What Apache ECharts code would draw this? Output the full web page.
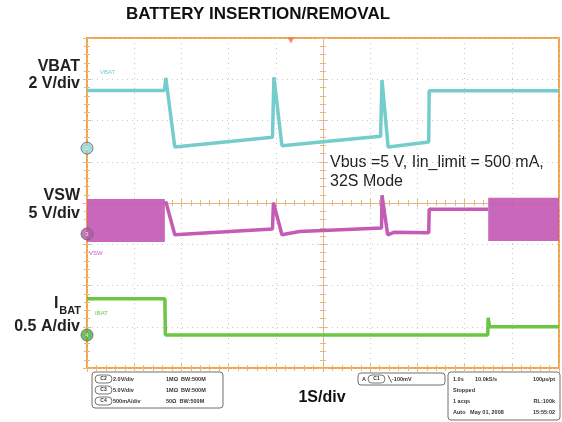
<!DOCTYPE html>
<html>
<head>
<meta charset="utf-8">
<script src="https://cdn.jsdelivr.net/npm/echarts@6/dist/echarts.min.js"></script>
<style>
html,body{margin:0;padding:0;background:#fff}
#chart{width:562px;height:422px}
</style>
</head>
<body>
<div id="chart"></div>
<script>
// scope capture, 1 s/div, 10 divs across, 8 divs high
var vbatTime = [0, 1.64, 1.67, 1.86, 3.93, 3.96, 4.13, 6.22, 6.25, 6.38, 7.24, 7.25, 10];
var vbatVolt = [2.8, 2.8, 3.4, 0.05, 0.53, 3.44, 0.12, 0.58, 3.3, 0.05, 0.3, 2.78, 2.78];

var vswTime = [1.65, 1.67, 1.86, 3.93, 3.95, 4.13, 4.5, 6.24, 6.25, 6.37, 6.5, 7.24, 7.25, 8.5];
var vswVolt = [3.6, 3.9, -0.1, 0.6, 3.8, -0.1, 0.3, 0.73, 4.7, -0.1, 0.2, 0.15, 3.0, 3.0];
// switching bursts drawn as solid bands
var burstStart = [0, 8.5];
var burstEnd = [1.65, 10];
var burstLow = [-0.97, -0.85];
var burstHigh = [4.24, 4.4];

var ibatTime = [0, 1.65, 1.66, 8.49, 8.5, 8.53, 10];
var ibatAmp = [0.44, 0.44, 0, 0, 0.21, 0.1, 0.1];

// channel ground marker (div from bottom) and scale per div
var vbatZero = 5.33, vbatPerDiv = 2;
var vswZero = 3.25, vswPerDiv = 5;
var ibatZero = 0.8, ibatPerDiv = 0.5;
var triggerTime = 4.32;

var cTeal = '#74cccc', cMag = '#c45bb5', cGreen = '#6cc645', cFrame = '#f4a444';

function toDiv(t, v, zero, per) {
  var out = [];
  for (var i = 0; i < t.length; i++) out.push([t[i], zero + v[i] / per]);
  return out;
}
var bursts = [];
for (var i = 0; i < burstStart.length; i++) {
  bursts.push([burstStart[i], burstEnd[i], vswZero + burstLow[i] / vswPerDiv, vswZero + burstHigh[i] / vswPerDiv]);
}

var chart = echarts.init(document.getElementById('chart'));

function frameX(pos, offset, inside) {
  return {
    type: 'value', min: 0, max: 10, interval: 1, position: pos, offset: offset || 0,
    axisLine: {show: offset ? true : false, lineStyle: {color: '#dcb88e', width: 1}},
    axisTick: {show: true, inside: inside, length: 4, lineStyle: {color: '#e8b77a'}},
    minorTick: {show: true, splitNumber: 5, length: 3, lineStyle: {color: '#e8b77a'}},
    axisLabel: {show: false},
    splitLine: {show: false}
  };
}
function frameY(pos, offset, inside) {
  return {
    type: 'value', min: 0, max: 8, interval: 1, position: pos, offset: offset || 0,
    axisLine: {show: offset ? true : false, lineStyle: {color: '#dcb88e', width: 1}},
    axisTick: {show: true, inside: inside, length: 4, lineStyle: {color: '#e8b77a'}},
    minorTick: {show: true, splitNumber: 5, length: 3, lineStyle: {color: '#e8b77a'}},
    axisLabel: {show: false},
    splitLine: {show: false}
  };
}

var xAxes = [frameX('bottom', 0, true), frameX('top', 0, true), frameX('bottom', -165, true), frameX('bottom', -165, false)];
xAxes[0].splitLine = {show: true, lineStyle: {color: '#c9c9c9', type: [1, 4], width: 1}};
var yAxes = [frameY('left', 0, true), frameY('right', 0, true), frameY('left', -236, true), frameY('left', -236, false)];
yAxes[0].splitLine = {show: true, lineStyle: {color: '#c9c9c9', type: [1, 4], width: 1}};

var fnt = 'Liberation Sans, Arial, sans-serif';
function txt(x, y, s, size, weight, color, align) {
  return {type: 'text', x: x, y: y, style: {text: s, font: (weight || 'normal') + ' ' + size + 'px ' + fnt, fill: color || '#222', align: align || 'left', verticalAlign: 'middle'}};
}
function box(x, y, w, h) {
  return {type: 'rect', shape: {x: x, y: y, width: w, height: h, r: 3}, style: {fill: '#fff', stroke: '#7a6a62', lineWidth: 1}};
}
function pill(x, y, s) {
  return {type: 'group', children: [
    {type: 'rect', shape: {x: x, y: y - 4, width: 17, height: 8, r: 4}, style: {fill: '#fff', stroke: '#555', lineWidth: 0.8}},
    txt(x + 8.5, y, s, 5, 'bold', '#333', 'center')
  ]};
}

var graphics = [
  txt(258, 14, 'BATTERY INSERTION/REMOVAL', 17, 'bold', '#111', 'center'),
  txt(80, 67, 'VBAT', 16, 'bold', '#222', 'right'),
  txt(80, 84, '2 V/div', 16, 'bold', '#222', 'right'),
  txt(80, 196, 'VSW', 16, 'bold', '#222', 'right'),
  txt(80, 214, '5 V/div', 16, 'bold', '#222', 'right'),
  txt(54, 304, 'I', 16, 'bold', '#222', 'left'),
  txt(81, 311, 'BAT', 11, 'bold', '#222', 'right'),
  txt(80, 327, '0.5 A/div', 16, 'bold', '#222', 'right'),
  txt(330, 163, 'Vbus =5 V, Iin_limit = 500 mA,', 16, 'normal', '#222'),
  txt(330, 182, '32S Mode', 16, 'normal', '#222'),
  txt(100, 72, 'VBAT', 6, 'normal', cTeal),
  txt(89, 253, 'VSW', 6, 'normal', cMag),
  txt(95, 313, 'IBAT', 6, 'normal', cGreen),
  txt(322, 398, '1S/div', 16, 'bold', '#111', 'center'),
  box(92, 372, 131, 36),
  pill(95, 379, 'C2'), txt(113, 379, '2.0V/div', 5.5, 'bold', '#333'), txt(166, 379, '1M\u03A9  BW:500M', 5.5, 'bold', '#333'),
  pill(95, 390, 'C3'), txt(113, 390, '5.0V/div', 5.5, 'bold', '#333'), txt(166, 390, '1M\u03A9  BW:500M', 5.5, 'bold', '#333'),
  pill(95, 401, 'C4'), txt(113, 401, '500mA/div', 5.5, 'bold', '#333'), txt(166, 401, '50\u03A9  BW:500M', 5.5, 'bold', '#333'),
  box(358, 373, 87, 12),
  txt(362, 379, 'A', 5.5, 'bold', '#333'), pill(368, 379, 'C1'), txt(388, 379, '\u2572-100mV', 5.5, 'bold', '#333'),
  box(448, 372, 112, 48),
  txt(453, 379, '1.0s', 5.5, 'bold', '#333'), txt(475, 379, '10.0kS/s', 5.5, 'bold', '#333'), txt(555, 379, '100\u00B5s/pt', 5.5, 'bold', '#333', 'right'),
  txt(453, 390, 'Stopped', 5.5, 'bold', '#333'),
  txt(453, 401, '1 acqs', 5.5, 'bold', '#333'), txt(555, 401, 'RL:100k', 5.5, 'bold', '#333', 'right'),
  txt(453, 412, 'Auto   May 01, 2008', 5.5, 'bold', '#333'), txt(555, 412, '15:55:02', 5.5, 'bold', '#333', 'right')
];

function marker(zero, num, color) {
  return {
    type: 'scatter', xAxisIndex: 0, yAxisIndex: 0, symbol: 'circle', symbolSize: 12, silent: true,
    itemStyle: {color: color, borderColor: '#666', borderWidth: 1},
    label: {show: true, position: 'inside', formatter: num, fontSize: 6, color: '#fff'},
    data: [[0, zero]], z: 10
  };
}

var option = {
  animation: false,
  backgroundColor: '#fff',
  grid: {left: 87, top: 38, width: 472, height: 330, show: true, borderColor: cFrame, borderWidth: 2, backgroundColor: '#fff'},
  xAxis: xAxes,
  yAxis: yAxes,
  graphic: graphics,
  series: [
    {
      type: 'custom', xAxisIndex: 0, yAxisIndex: 0, silent: true,
      renderItem: function (params, api) {
        var a = api.coord([api.value(0), api.value(3)]);
        var b = api.coord([api.value(1), api.value(2)]);
        return {type: 'rect', shape: {x: a[0], y: a[1], width: b[0] - a[0], height: b[1] - a[1]}, style: {fill: cMag, opacity: 0.92}};
      },
      data: bursts
    },
    {type: 'line', xAxisIndex: 0, yAxisIndex: 0, showSymbol: false, silent: true, data: toDiv(vbatTime, vbatVolt, vbatZero, vbatPerDiv), lineStyle: {color: cTeal, width: 3.5}},
    {type: 'line', xAxisIndex: 0, yAxisIndex: 0, showSymbol: false, silent: true, data: toDiv(vswTime, vswVolt, vswZero, vswPerDiv), lineStyle: {color: cMag, width: 3.5}},
    {type: 'line', xAxisIndex: 0, yAxisIndex: 0, showSymbol: false, silent: true, data: toDiv(ibatTime, ibatAmp, ibatZero, ibatPerDiv), lineStyle: {color: cGreen, width: 3.5}},
    marker(vbatZero, '2', '#8ed3d3'),
    marker(vswZero, '3', '#b25aa6'),
    marker(ibatZero, '4', '#4fae3a'),
    {
      type: 'scatter', xAxisIndex: 0, yAxisIndex: 0, symbol: 'triangle', symbolRotate: 180, symbolSize: [7, 6], silent: true,
      itemStyle: {color: '#f07050'}, data: [[triggerTime, 7.94]], z: 10
    }
  ]
};
chart.setOption(option);
</script>
</body>
</html>
